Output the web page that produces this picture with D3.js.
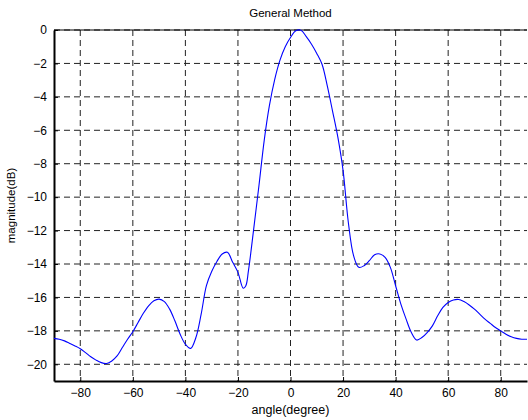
<!DOCTYPE html>
<html>
<head>
<meta charset="utf-8">
<title>General Method</title>
<script src="https://d3js.org/d3.v7.min.js"></script>
<style>
  body { margin: 0; background: #fff; }
  text { font-family: "Liberation Sans", Arial, sans-serif; fill: #000; }
</style>
</head>
<body>
<div id="chart"></div>
<script>
// data
const angles = [-90,-88,-86,-84,-82,-80,-78,-76,-74,-72,-70,-68,-66,-64,-62,-60,-58,-56,-54,-52,
  -50,-48,-46,-44,-42,-40,-38,-36,-34,-32,-30,-28,-26,-24,-22,-20,-18,-17,-16,-14,-12,-10,-8,-6,-4,-2,
  0,2,4,6,8,10,12,14,16,18,20,22,24,26,28,30,32,34,36,38,40,42,44,46,48,50,52,54,56,58,
  60,62,64,66,68,70,72,74,76,78,80,82,84,86,88,90];
const magnitude = [-18.45,-18.5,-18.6,-18.75,-18.9,-19.07,-19.3,-19.55,-19.75,-19.9,-19.95,-19.8,-19.5,-19.0,-18.5,-18.05,-17.5,-16.95,-16.5,-16.2,
  -16.1,-16.25,-16.7,-17.4,-18.2,-18.8,-19.05,-18.4,-17.0,-15.3,-14.45,-13.85,-13.4,-13.3,-13.9,-14.5,-15.45,-15.3,-14.4,-11.9,-9.3,-6.6,-4.5,-2.95,-1.8,-1.0,
  -0.45,-0.05,-0.02,-0.4,-0.85,-1.4,-2.05,-3.35,-4.85,-6.4,-8.4,-11.5,-13.5,-14.2,-14.1,-13.8,-13.45,-13.4,-13.6,-14.2,-15.3,-16.4,-17.3,-18.1,-18.55,-18.4,-18.1,-17.7,-17.1,-16.6,
  -16.3,-16.15,-16.12,-16.25,-16.45,-16.7,-17.0,-17.3,-17.55,-17.8,-18.0,-18.2,-18.35,-18.45,-18.5,-18.5];
const xTicks = [-80,-60,-40,-20,0,20,40,60,80];
const yTicks = [0,-2,-4,-6,-8,-10,-12,-14,-16,-18,-20];

const W = 528, H = 420;
const margin = { top: 30, right: 1, bottom: 39, left: 54 };
const width = W - margin.left - margin.right;
const height = H - margin.top - margin.bottom;

const svg = d3.select("#chart").append("svg")
    .attr("width", W)
    .attr("height", H);

const g = svg.append("g")
    .attr("transform", `translate(${margin.left},${margin.top})`);

const x = d3.scaleLinear().domain([-90, 90]).range([0, width]);
const y = d3.scaleLinear().domain([-21, 0]).range([height, 0]);

// grid
g.append("g").selectAll("line").data(xTicks).join("line")
    .attr("x1", d => x(d)).attr("x2", d => x(d))
    .attr("y1", 0).attr("y2", height)
    .attr("stroke", "#222").attr("stroke-width", 1)
    .attr("stroke-dasharray", "6,4");
g.append("g").selectAll("line").data(yTicks).join("line")
    .attr("x1", 0).attr("x2", width)
    .attr("y1", d => y(d)).attr("y2", d => y(d))
    .attr("stroke", "#222").attr("stroke-width", 1)
    .attr("stroke-dasharray", "6,4");

// axes, ticks inward
g.append("g")
    .attr("transform", `translate(0,${height})`)
    .call(d3.axisBottom(x).tickValues(xTicks).tickSizeInner(-4).tickSizeOuter(0).tickPadding(7))
    .call(a => a.select(".domain").attr("stroke-width", 2))
    .call(a => a.selectAll("text").attr("font-size", 12));

g.append("g")
    .call(d3.axisLeft(y).tickValues(yTicks).tickSizeInner(-4).tickSizeOuter(0).tickPadding(7))
    .call(a => a.select(".domain").attr("stroke-width", 2))
    .call(a => a.selectAll("text").attr("font-size", 12));

svg.selectAll(".tick text").attr("font-family", "Liberation Sans, Arial, sans-serif");

// top border
g.append("line")
    .attr("x1", 0).attr("x2", width)
    .attr("y1", 0).attr("y2", 0)
    .attr("stroke", "#000").attr("stroke-width", 1);

// curve
const pts = angles.map((a, i) => ({ a: a, m: magnitude[i] }));
g.append("path")
    .datum(pts)
    .attr("fill", "none")
    .attr("stroke", "#0000ff")
    .attr("stroke-width", 1.1)
    .attr("d", d3.line().x(d => x(d.a)).y(d => y(d.m)).curve(d3.curveCatmullRom));

// labels
svg.append("text")
    .attr("x", margin.left + width / 2).attr("y", 17)
    .attr("text-anchor", "middle").attr("font-size", 11.5)
    .text("General Method");

svg.append("text")
    .attr("x", margin.left + width / 2).attr("y", 414)
    .attr("text-anchor", "middle").attr("font-size", 12.5)
    .text("angle(degree)");

svg.append("text")
    .attr("transform", `translate(15,${margin.top + height / 2}) rotate(-90)`)
    .attr("text-anchor", "middle").attr("font-size", 11.5)
    .text("magnitude(dB)");
</script>
</body>
</html>
